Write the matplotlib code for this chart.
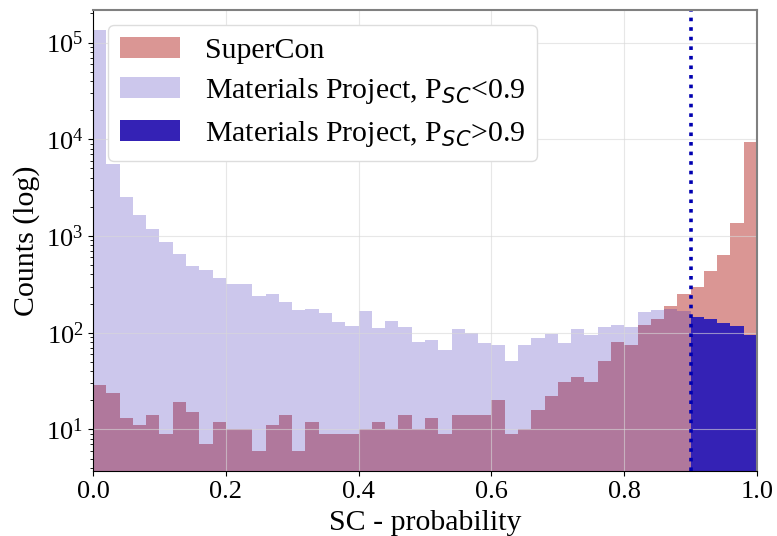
import numpy as np
import matplotlib
matplotlib.use('Agg')
import matplotlib.pyplot as plt

plt.rcParams['font.family'] = ['Liberation Serif', 'DejaVu Serif']
plt.rcParams['mathtext.fontset'] = 'custom'
plt.rcParams['mathtext.rm'] = 'Liberation Serif'
plt.rcParams['mathtext.it'] = 'DejaVu Sans:italic'

# Histogram counts per 0.02-wide bin of SC probability
bin_edges = np.linspace(0.0, 1.0, 51)

supercon_counts = [29, 24, 13, 11, 14, 9, 19, 15, 7, 12,
                   10, 10, 6, 11, 14, 6, 12, 9, 9, 9,
                   10, 12, 10, 14, 10, 13, 9, 14, 14, 14,
                   20, 9, 10, 16, 22, 31, 35, 31, 51, 80,
                   75, 119, 138, 189, 251, 294, 431, 641, 1352, 9370]

mp_low_counts = [136000, 5600, 2530, 1650, 1180, 861, 658, 486, 442, 371,
                 318, 318, 242, 250, 210, 171, 174, 160, 130, 117,
                 169, 112, 133, 115, 80, 85, 67, 110, 100, 79,
                 75, 51, 75, 88, 98, 78, 110, 94, 115, 119,
                 115, 164, 172, 175, 166]

mp_high_counts = [146, 138, 125, 117, 94]

threshold = 0.9
n_low = len(mp_low_counts)

fig = plt.figure(figsize=(7.77, 5.36), dpi=100)
ax = fig.add_axes([0.1197, 0.1213, 0.8546, 0.86])

ax.stairs(supercon_counts, bin_edges, fill=True, baseline=0.1,
          color='#DA9694', linewidth=0, label='SuperCon')
ax.stairs(mp_low_counts, bin_edges[:n_low + 1], fill=True, baseline=0.1,
          color='#3422B5', alpha=0.25, linewidth=0,
          label=r'Materials Project, P$_{SC}$<0.9')
ax.stairs(mp_high_counts, bin_edges[n_low:], fill=True, baseline=0.1,
          color='#3422B5', alpha=1.0, linewidth=0,
          label=r'Materials Project, P$_{SC}$>0.9')

ax.axvline(threshold, color='#0000B0', linestyle=':', linewidth=2.6)

ax.set_yscale('log')
ax.set_xlim(0, 1)
ax.set_ylim(3.72, 2.17e5)
ax.set_xticks([0.0, 0.2, 0.4, 0.6, 0.8, 1.0])

ax.grid(True, color='#d8d8d8', linewidth=0.8, alpha=0.6)
ax.tick_params(axis='both', labelsize=19)
ax.set_xlabel('SC - probability', fontsize=21.5, labelpad=5)
ax.set_ylabel('Counts (log)', fontsize=21.5, labelpad=4)

for side in ['top', 'right']:
    ax.spines[side].set_color('#808080')
    ax.spines[side].set_linewidth(1.5)

ax.legend(loc='upper left', fontsize=21.5, handlelength=2.0,
          handletextpad=0.85, labelspacing=0.42, borderaxespad=0.5,
          framealpha=1.0, edgecolor='#dddddd')

plt.savefig('out.png', dpi=100)
